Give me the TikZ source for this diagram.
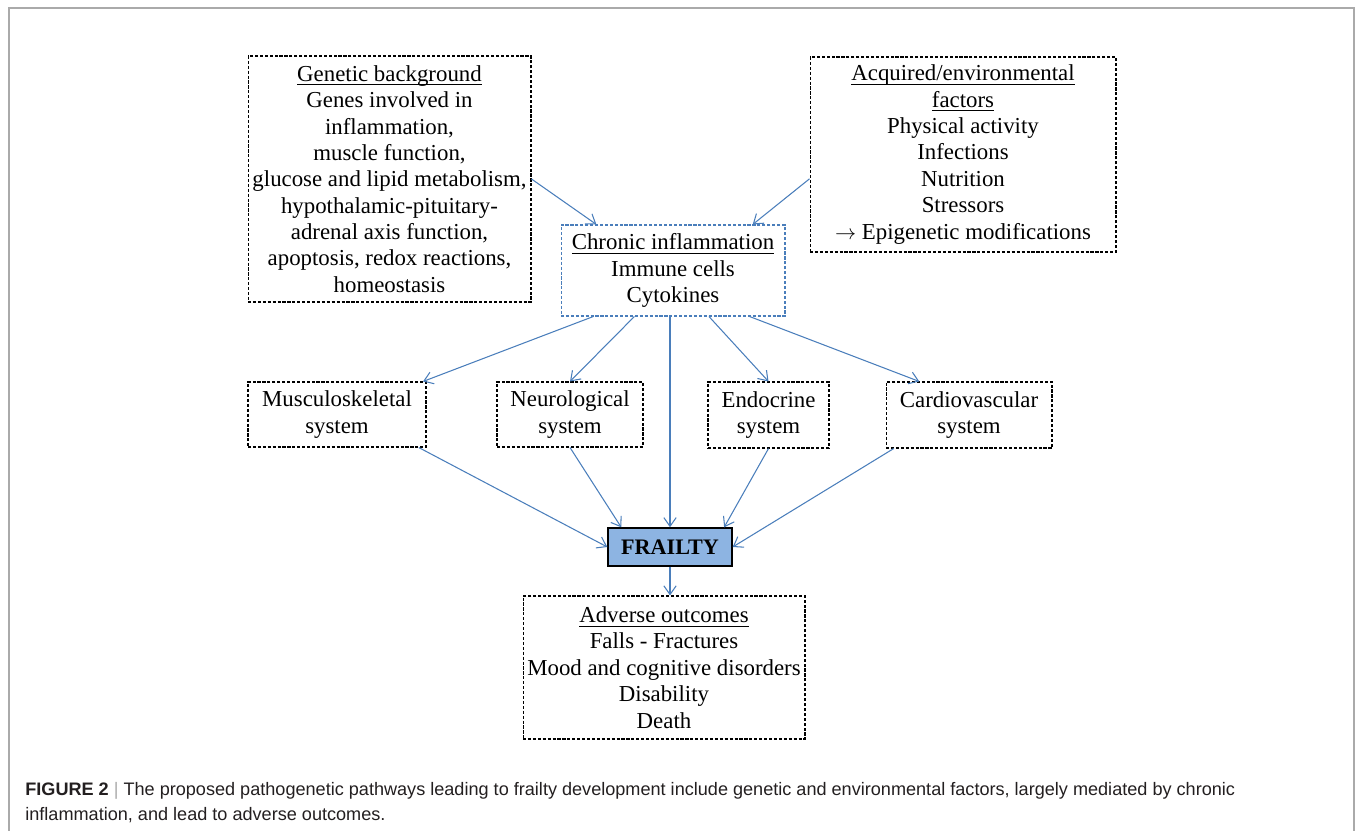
\documentclass[tikz,border=0pt]{standalone}
\usepackage{fontspec}
\setmainfont{Liberation Serif}
\newfontfamily\capfont{Liberation Sans}
\usetikzlibrary{arrows.meta}
\definecolor{linkblue}{RGB}{74,126,187}
\definecolor{frailfill}{RGB}{141,180,226}
\definecolor{capgray}{RGB}{35,31,32}
\definecolor{framegray}{RGB}{170,170,170}
% underlined box title, rule at a fixed depth
\newcommand\boxtitle[1]{\setbox0\hbox{#1}\rlap{\rule[-2.2pt]{\wd0}{0.5pt}}\box0}

\begin{document}
\begin{tikzpicture}[
    x=0.02cm, y=-0.02cm,
    every node/.style={font=\fontsize{13}{15}\selectfont},
    box/.style={rectangle, draw, dash pattern=on 1.8pt off 1pt, line width=0.6pt, align=center, inner sep=0pt},
    inflbox/.style={box, draw=linkblue},
    frailbox/.style={rectangle, draw, line width=0.8pt, fill=frailfill, inner sep=0pt, font=\fontsize{12.6}{14}\selectfont\bfseries},
    link/.style={-{Straight Barb[length=5pt,width=7pt]}, draw=linkblue, line width=0.6pt}
]
\useasboundingbox (0,0) rectangle (1355,831);

% Frame
\draw[framegray, line width=0.8pt] (9,831) -- (9,8) -- (1354,8) -- (1354,831);

% Causes
\node[box, minimum width=5.66cm, minimum height=4.92cm] (gen) at (389.5,179) {\boxtitle{Genetic background}\\ Genes involved in\\ inflammation,\\ muscle function,\\ glucose and lipid metabolism,\\ hypothalamic-pituitary-\\ adrenal axis function,\\ apoptosis, redox reactions,\\ homeostasis};
\node[box, minimum width=6.12cm, minimum height=3.9cm] (acq) at (963,154.5) {\boxtitle{Acquired/environmental}\\ \boxtitle{factors}\\ Physical activity\\ Infections\\ Nutrition\\ Stressors\\ $\rightarrow$ Epigenetic modifications};

% Chronic inflammation
\node[inflbox, minimum width=4.48cm, minimum height=1.82cm] (chr) at (673,270.5) {\boxtitle{Chronic inflammation}\\ Immune cells\\ Cytokines};

% Systems
\node[box, minimum width=3.56cm, minimum height=1.3cm] (mus) at (337,414.5) {Musculoskeletal\\ system};
\node[box, minimum width=2.92cm, minimum height=1.3cm] (neu) at (570,414.5) {Neurological\\ system};
\node[box, minimum width=2.42cm, minimum height=1.32cm] (end) at (768.5,415) {Endocrine\\ system};
\node[box, minimum width=3.32cm, minimum height=1.32cm] (car) at (969,415) {Cardiovascular\\ system};

% Frailty and outcomes
\node[frailbox, minimum width=2.48cm, minimum height=0.76cm] (frl) at (670,547) {FRAILTY};
\node[box, minimum width=5.64cm, minimum height=2.86cm] (adv) at (664,667.5) {\boxtitle{Adverse outcomes}\\ Falls - Fractures\\ Mood and cognitive disorders\\ Disability\\ Death};

% Connections into chronic inflammation
\draw[link] (gen.east) -- (chr.149);
\draw[link] (acq.189) -- (chr.30);

% Connections to systems
\draw[link] (chr.210) -- (mus.21);
\draw[link] (chr.230) -- (neu.north);
\draw[link] (chr.308) -- (end.north);
\draw[link] (chr.329) -- (car.146);
\draw[link] (frl.north |- chr.south) -- (frl.north);

% Connections to frailty
\draw[link] (mus.338) -- (frl.west);
\draw[link] (neu.south) -- (frl.158);
\draw[link] (end.south) -- (frl.20);
\draw[link] (car.204) -- (frl.east);
\draw[link] (frl.south) -- (frl.south |- adv.north);

% Caption
\node[anchor=north west, align=left, inner sep=0pt, text=capgray, font=\capfont\fontsize{10.3}{14.2}\selectfont] (cap) at (25,782) {\textbf{FIGURE 2} {\color{framegray}|} The proposed pathogenetic pathways leading to frailty development include genetic and environmental factors, largely mediated by chronic\\ inflammation, and lead to adverse outcomes.};
\end{tikzpicture}
\end{document}
